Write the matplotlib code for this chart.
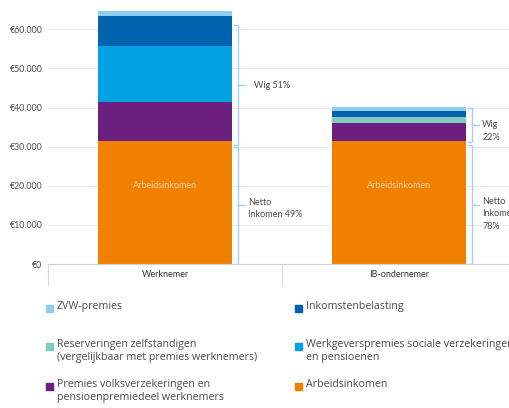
import matplotlib
matplotlib.use("Agg")
import matplotlib.pyplot as plt
from matplotlib.patches import Rectangle
from matplotlib.ticker import FuncFormatter

# categorieën en componenten (euro), van onder naar boven
categories = ["Werknemer", "IB-ondernemer"]
components = [
    "Arbeidsinkomen",
    "Premies volksverzekeringen en\npensioenpremiedeel werknemers",
    "Reserveringen zelfstandigen\n(vergelijkbaar met premies werknemers)",
    "Werkgeverspremies sociale verzekeringen\nen pensioenen",
    "Inkomstenbelasting",
    "ZVW-premies",
]
colors = ["#f08100", "#6b1f7f", "#80cbbf", "#00a2e4", "#0063ae", "#8ccdf0"]
values = {
    "Werknemer":     [31500, 10000, 0, 14250, 7650, 1300],
    "IB-ondernemer": [31500, 4600, 1600, 0, 1400, 1100],
}

# haken rechts van de staven: (onder, boven, tekst)
brackets = {
    "Werknemer":     [(0, 30000, "Netto\nInkomen 49%"), (30300, 61000, "Wig 51%")],
    "IB-ondernemer": [(0, 30400, "Netto\nInkomen\n78%"), (31200, 40000, "Wig\n22%")],
}

# volgorde in de legenda (rij, kolom)
legend_order = [
    ("ZVW-premies", 0, 0),
    ("Inkomstenbelasting", 0, 1),
    ("Reserveringen zelfstandigen\n(vergelijkbaar met premies werknemers)", 1, 0),
    ("Werkgeverspremies sociale verzekeringen\nen pensioenen", 1, 1),
    ("Premies volksverzekeringen en\npensioenpremiedeel werknemers", 2, 0),
    ("Arbeidsinkomen", 2, 1),
]

FONT = "Lato"
LEGFONT = "Open Sans"
TXT = "#4a4a4a"
BRACKET = "#a6cfee"

W, H = 509, 408
fig = plt.figure(figsize=(W / 100, H / 100), dpi=100)
ax = fig.add_axes([48 / W, (H - 264) / H, 468 / W, 264 / H])

width = 0.57
for i, cat in enumerate(categories):
    bottom = 0
    for comp, col, v in zip(components, colors, values[cat]):
        if v > 0:
            ax.bar(i, v, width, bottom=bottom, color=col, edgecolor="none", zorder=2)
        bottom += v
    ax.text(i, 20000, "Arbeidsinkomen", ha="center", va="center",
            color="#fbcf9c", fontsize=6.5, family=FONT, zorder=3)

    # haken
    bx = i + width / 2 + 0.026
    hook = 0.016
    for lo, hi, label in brackets[cat]:
        ax.plot([bx - hook, bx, bx, bx - hook], [lo, lo, hi, hi],
                color=BRACKET, lw=1, zorder=3, solid_joinstyle="miter")
        mid = (lo + hi) / 2
        ax.plot([bx, bx + 0.03], [mid, mid], color=BRACKET, lw=1, zorder=3)
        lines = label.split("\n")
        if cat == "Werknemer" and lines[0].startswith("Wig"):
            tx, ty, va = bx + 0.068, mid, "center"
        elif lines[0].startswith("Wig"):
            tx, ty, va = bx + 0.045, mid + 1200, "top"
        else:
            tx, ty, va = bx + 0.045, mid + 2000, "top"
        ax.text(tx, ty, label, ha="left", va=va,
                color=TXT, fontsize=6.5, family=FONT, linespacing=1.5)

ax.set_xlim(-0.5, 1.5)
ax.set_ylim(0, 67500)
ax.set_yticks(range(0, 70000, 10000))
ax.yaxis.set_major_formatter(
    FuncFormatter(lambda v, _: "€" + f"{int(v):,}".replace(",", ".")))
ax.tick_params(axis="y", length=0, pad=4, labelsize=6.3, labelcolor=TXT)
for lab in ax.get_yticklabels():
    lab.set_family(FONT)
ax.grid(axis="y", color="#ececec", lw=0.8, zorder=0)

ax.set_xticks([0, 1])
ax.set_xticklabels(categories, fontsize=6.5, color="#333", family=FONT)
ax.set_xticks([-0.5, 0.5, 1.5], minor=True)
ax.tick_params(axis="x", which="major", length=0, pad=4)
ax.tick_params(axis="x", which="minor", length=16, color="#dddddd", width=0.8)
for s in ["top", "right", "left"]:
    ax.spines[s].set_visible(False)
ax.spines["bottom"].set_color("#d0d0d0")
ax.spines["bottom"].set_linewidth(0.8)

# legenda
color_of = dict(zip(components, colors))
col_x = [46, 295]
row_y = [308, 346, 386]
for label, r, c in legend_order:
    key = [k for k in components if k.replace("\n", " ") == label.replace("\n", " ")][0]
    x0, y0 = col_x[c], row_y[r]
    fig.patches.append(Rectangle((x0 / W, (H - y0 - 3.5) / H), 7 / W, 7 / H,
                                 transform=fig.transFigure, color=color_of[key]))
    fig.text((x0 + 11) / W, (H - y0 + 7) / H, label, ha="left", va="top",
             fontsize=7.7, color=TXT, family=LEGFONT, linespacing=1.25)

fig.savefig("out.png", dpi=100)
